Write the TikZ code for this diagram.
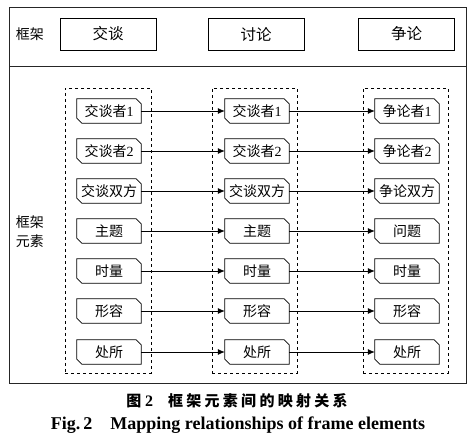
\documentclass[tikz,border=0pt]{standalone}
\usepackage{fontspec}
\setmainfont{Liberation Serif}
\newfontfamily\cjk{Noto Sans CJK SC}
\newfontfamily\cjkcap[LetterSpace=22]{Noto Sans CJK SC}
\usetikzlibrary{arrows.meta,calc}
\begin{document}
\begin{tikzpicture}[x=1pt,y=-1pt,
  frame/.style={draw=black!85, line width=0.9pt},
  topbox/.style={draw, line width=0.7pt, minimum width=96pt, minimum height=32pt, inner sep=0pt, font=\fontsize{15.5}{17}\selectfont\cjk},
  elem/.style={minimum width=64pt, minimum height=24pt, inner sep=0pt, font=\fontsize{14}{16}\selectfont},
  group/.style={draw, dashed, line width=0.7pt},
  maparrow/.style={line width=0.8pt, -{Latex[length=7pt,width=6pt]}},
  lbl/.style={font=\fontsize{14}{19}\selectfont\cjk, align=center}
]
\useasboundingbox (0,0) rectangle (474,443);
% outer frame
\draw[frame] (9,7) rectangle (466,383);
\draw[frame] (9,66) -- (466,66);
% top row
\node[lbl] (lframe) at (30,34) {框架};
\node[topbox] (t1) at (108,34) {交谈};
\node[topbox] (t2) at (256,34) {讨论};
\node[topbox] (t3) at (406.5,34) {争论};
\node[lbl] (lelem) at (30,232) {框架\\元素};
% dashed groups
\node[group, minimum width=86pt, minimum height=285pt, inner sep=0pt] (g1) at (108,230.5) {};
\node[group, minimum width=85pt, minimum height=285pt, inner sep=0pt] (g2) at (254.5,230.5) {};
\node[group, minimum width=85pt, minimum height=285pt, inner sep=0pt] (g3) at (405.5,230.5) {};
% elements
\foreach \r/\y/\a/\b/\c in {
  1/111/{{\cjk 交谈者}1}/{{\cjk 交谈者}1}/{{\cjk 争论者}1},
  2/151/{{\cjk 交谈者}2}/{{\cjk 交谈者}2}/{{\cjk 争论者}2},
  3/191/{\cjk 交谈双方}/{\cjk 交谈双方}/{\cjk 争论双方},
  4/231/{\cjk 主题}/{\cjk 主题}/{\cjk 问题},
  5/271/{\cjk 时量}/{\cjk 时量}/{\cjk 时量},
  6/311/{\cjk 形容}/{\cjk 形容}/{\cjk 形容},
  7/352/{\cjk 处所}/{\cjk 处所}/{\cjk 处所}}{
  \node[elem] (a\r) at (109,\y) {\a};
  \node[elem] (b\r) at (257,\y) {\b};
  \node[elem] (c\r) at (407,\y) {\c};
  \foreach \n in {a\r,b\r,c\r}{
    \draw[line width=0.7pt] (\n.north west) -- ($(\n.north east)+(-5,0)$) -- ($(\n.north east)+(0,5)$)
      -- (\n.south east) -- ($(\n.south west)+(5,0)$) -- ($(\n.south west)+(0,-5)$) -- cycle;
  }
  \draw[maparrow] (a\r) -- (b\r);
  \draw[maparrow] (b\r) -- (c\r);
}
% captions
\node[font=\fontsize{15}{17}\selectfont\bfseries] (cap1) at (237,401) {{\cjkcap 图}\ {\fontsize{16}{17}\selectfont 2}\quad{\cjkcap 框架元素间的映射关系}};
\node[font=\fontsize{18}{20}\selectfont\bfseries] (cap2) at (238,425) {Fig.\,2\quad Mapping relationships of frame elements};
\end{tikzpicture}
\end{document}
